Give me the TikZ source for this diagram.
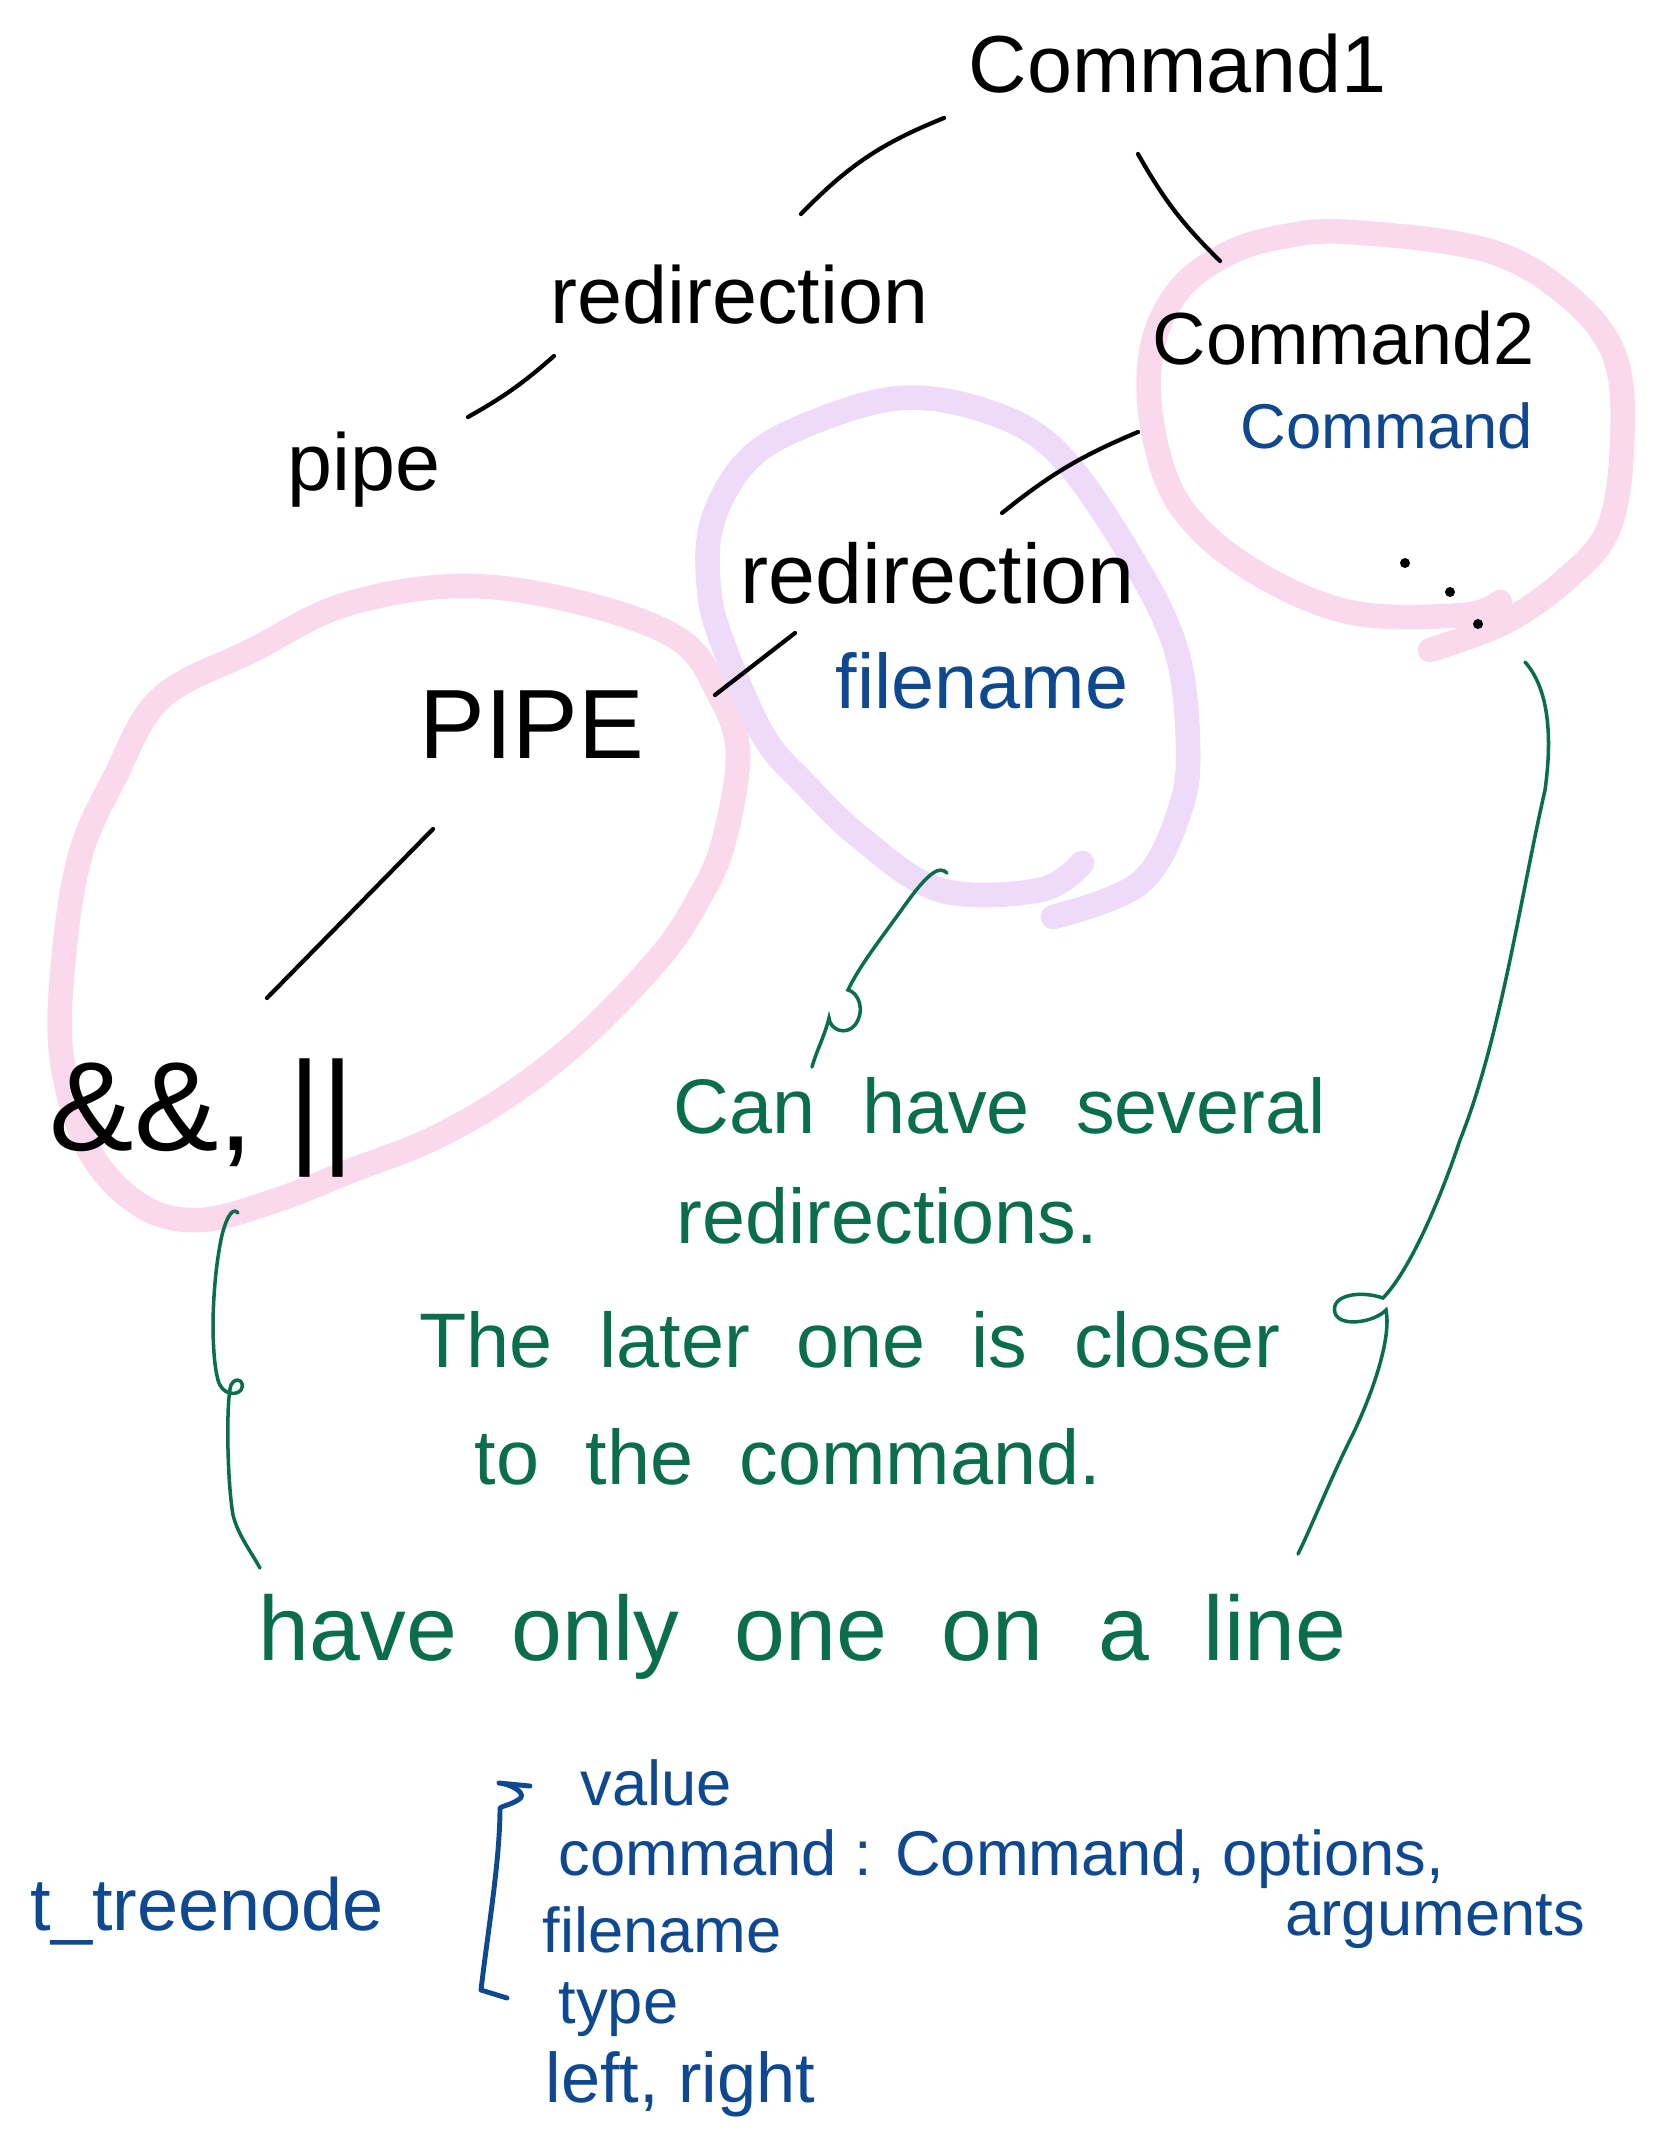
\documentclass[tikz,border=0pt]{standalone}
\usepackage{fontspec}
\setmainfont{Liberation Sans}
\usepackage{tikz}
\usetikzlibrary{calc}

\definecolor{penpink}{RGB}{250,217,237}
\definecolor{penlilac}{RGB}{238,219,250}
\definecolor{pengreen}{RGB}{10,110,78}
\definecolor{penblue}{RGB}{14,72,145}

\newcommand{\widewords}{\spaceskip=0.6em\relax}

\begin{document}
\begin{tikzpicture}[x=0.01cm, y=-0.01cm,
    lbl/.style={anchor=base west, inner sep=0pt, font=\fontsize{23}{27}\selectfont},
    note/.style={anchor=base west, inner sep=0pt, text=pengreen,
                 font=\fontsize{22}{26}\selectfont,
                 execute at begin node=\widewords},
    fld/.style={anchor=base west, inner sep=0pt, text=penblue,
                font=\fontsize{18}{22}\selectfont},
    branch/.style={line width=1.2pt, line cap=round},
    hint/.style={pengreen, line width=1pt, line cap=round},
    ring/.style={line width=7pt, line cap=round, line join=round},
  ]
  \fill[white] (0,0) rectangle (1668,2154);
  \useasboundingbox (0,0) rectangle (1668,2154);

  %% highlight rings
  \draw[ring, penpink] plot[smooth cycle, tension=0.6] coordinates {
    (253,650) (344,605) (459,586) (574,601) (677,638) (718,692) (738,753)
    (723,844) (698,900) (660,957) (583,1037) (506,1097) (430,1140)
    (353,1170) (277,1200) (200,1220) (140,1205) (89,1150) (62,1060)
    (63,965) (80,856) (115,777) (161,698)};
  \draw[ring, penlilac] plot[smooth, tension=0.6] coordinates {
    (1053,917) (1140,883) (1180,810) (1188,742) (1175,646) (1127,550)
    (1058,453) (989,412) (900,398) (804,426) (746,462) (712,523) (709,589)
    (723,644) (763,735) (804,783) (861,838) (940,890) (1040,890) (1082,863)};
  \draw[ring, penpink] plot[smooth, tension=0.6] coordinates {
    (1430,650) (1505,622) (1565,580) (1608,530) (1622,446) (1615,357)
    (1567,295) (1486,250) (1349,232) (1281,237) (1227,254) (1179,290)
    (1152,348) (1152,424) (1179,504) (1247,567) (1349,612) (1463,615)
    (1500,602)};

  %% tree labels
  \node[lbl] (cmdone) at (968,92) {Command1};
  \node[lbl] (rediron) at (550,323) {redirection};
  \node[lbl] (pipeone) at (287,490) {pipe};
  \node[lbl, font=\fontsize{21}{25}\selectfont] (cmdtwo) at (1152,364) {Command2};
  \node[fld] (cmdkind) at (1240,448) {Command};
  \node[lbl, font=\fontsize{24}{28}\selectfont] (redirtwo) at (740,603) {redirection};
  \node[fld, font=\fontsize{22}{26}\selectfont] (fname) at (835,708) {filename};
  \node[lbl, font=\fontsize{28}{32}\selectfont] (pipetwo) at (419,758) {PIPE};
  \node[lbl, font=\fontsize{36}{40}\selectfont] (andor) at (49,1150) {\&\&, ||};

  %% more children
  \fill (1405,563) circle (5);
  \fill (1450,592) circle (5);
  \fill (1478,624) circle (5);

  %% tree branches
  \draw[branch] ($(cmdone.base west)+(-24,26)$) to[bend right=12] ($(rediron.base west)+(251,-109)$);
  \draw[branch] ($(cmdone.base west)+(170,62)$) to[bend right=8] ($(cmdtwo.base west)+(68,-103)$);
  \draw[branch] ($(rediron.base west)+(4,33)$) to[bend left=6] ($(pipeone.base west)+(181,-73)$);
  \draw[branch] ($(cmdtwo.base west)+(-14,68)$) to[bend right=8] ($(redirtwo.base west)+(262,-90)$);
  \draw[branch] ($(redirtwo.base west)+(55,30)$) -- ($(pipetwo.base west)+(296,-63)$);
  \draw[branch] ($(pipetwo.base west)+(14,71)$) -- ($(andor.base west)+(218,-152)$);

  %% green notes
  \node[note] (gcan) at (673,1133) {Can have several};
  \node[note] (gredir) at (676,1243) {redirections.};
  \node[note] (glater) at (419,1367) {The later one is closer};
  \node[note] (gto) at (474,1484) {to the command.};
  \node[note, font=\fontsize{26}{30}\selectfont] (gonly) at (258,1660) {have only one on a line};

  \coordinate (lilacbot) at (947,873);
  \coordinate (pinkbot) at (238,1213);
  \coordinate (pinkrbot) at (1525,662);
  \draw[hint] (lilacbot) .. controls (940,866) and (930,870) .. (905,905)
    .. controls (880,940) and (860,965) .. (848,990)
    .. controls (858,992) and (866,1010) .. (855,1025)
    .. controls (846,1036) and (830,1030) .. (829,1018)
    .. controls (825,1035) and (816,1052) .. ($(gcan.base west)+(139,-66)$);
  \draw[hint] (pinkbot) .. controls (234,1208) and (228,1212) .. (222,1235)
    .. controls (212,1280) and (210,1350) .. (218,1380)
    .. controls (222,1395) and (236,1396) .. (241,1390)
    .. controls (246,1382) and (236,1375) .. (231,1385)
    .. controls (226,1400) and (227,1480) .. (233,1515)
    .. controls (238,1535) and (250,1550) .. ($(gonly.base west)+(2,-92)$);
  \draw[hint] (pinkrbot) .. controls (1550,690) and (1552,740) .. (1545,790)
    .. controls (1520,900) and (1500,1040) .. (1460,1140)
    .. controls (1440,1200) and (1410,1270) .. (1383,1298)
    .. controls (1360,1290) and (1330,1295) .. (1335,1313)
    .. controls (1340,1328) and (1375,1322) .. (1386,1310)
    .. controls (1392,1340) and (1370,1400) .. (1350,1440)
    .. controls (1330,1480) and (1310,1530) .. ($(gonly.base west)+(1040,-106)$);

  %% t_treenode fields
  \node[fld, font=\fontsize{21}{25}\selectfont] (tnode) at (30,1930) {t\_treenode};
  \draw[penblue, line width=1.4pt, line cap=round, line join=round]
    (530,1786) -- (499,1783) .. controls (515,1785) and (528,1795) .. (518,1800)
    .. controls (510,1805) and (502,1806) .. (500,1808)
    .. controls (500,1860) and (488,1930) .. (481,1990) -- (507,1998);
  \node[fld] (fvalue) at (580,1805) {value};
  \node[fld] (fcmd) at (558,1875) {command : Command, options,};
  \node[fld] (fargs) at (1285,1935) {arguments};
  \node[fld] (ffile) at (542,1952) {filename};
  \node[fld] (ftype) at (558,2023) {type};
  \node[fld, font=\fontsize{20}{24}\selectfont] (fleft) at (545,2102) {left, right};
\end{tikzpicture}
\end{document}
